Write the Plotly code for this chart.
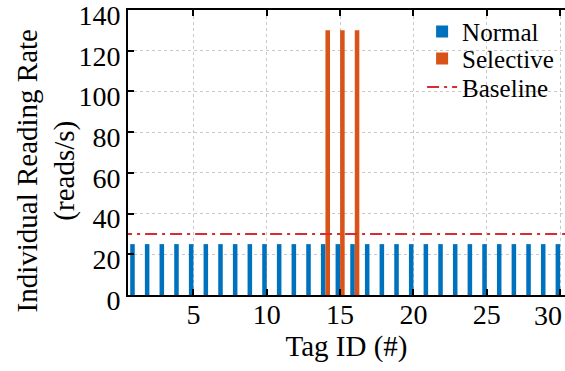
import plotly.graph_objects as go

# Per-tag reading rates
tag_ids = list(range(1, 31))
normal_rate = [25] * 30
selective_ids = [14, 15, 16]
selective_rate = [130, 130, 130]
baseline_rate = 30

x_ticks = [5, 10, 15, 20, 25, 30]
# the last label is drawn separately, right-aligned at its tick so it stays inside the figure
x_tick_labels = ["5", "10", "15", "20", "25", ""]
last_x_label = "30"
y_ticks = [0, 20, 40, 60, 80, 100, 120, 140]

BLUE = "#0072BD"
ORANGE = "#D95319"
RED = "#D62D35"
FONT = "'Times New Roman', 'Liberation Serif', Times, serif"

fig = go.Figure()
fig.add_trace(go.Bar(x=tag_ids, y=normal_rate, name="Normal", legend="legend",
                     marker=dict(color=BLUE, line=dict(width=0))))
fig.add_trace(go.Bar(x=selective_ids, y=selective_rate, name="Selective", legend="legend2",
                     marker=dict(color=ORANGE, line=dict(width=0))))
fig.add_trace(go.Scatter(x=[0.0, 31.0], y=[baseline_rate, baseline_rate],
                         mode="lines", name="Baseline", legend="legend3",
                         line=dict(color=RED, width=2, dash="12px,5px,3px,5px")))

# one legend box per row so the rows sit close together
legend_style = dict(x=0.673, xanchor="left", yanchor="middle",
                    bgcolor="rgba(0,0,0,0)", borderwidth=0,
                    font=dict(family=FONT, size=25, color="black"))

fig.update_layout(
    width=565, height=371,
    margin=dict(l=128, r=0, t=10, b=76, autoexpand=False),
    paper_bgcolor="white", plot_bgcolor="white",
    barmode="group", bargap=0.38, bargroupgap=0.0,
    font=dict(family=FONT, size=29, color="black"),
    showlegend=True,
    legend=dict(y=0.924, **legend_style),
    legend2=dict(y=0.829, **legend_style),
    legend3=dict(y=0.729, **legend_style),
    annotations=[
        # y-axis title, set a little below the middle of the axis
        dict(text="Individual Reading Rate<br>(reads/s)",
             xref="paper", yref="paper", x=-0.1865, y=0.4386,
             xanchor="center", yanchor="middle", textangle=-90,
             showarrow=False, font=dict(family=FONT, size=29)),
        # final x tick label
        dict(text=last_x_label, xref="x", yref="paper", x=x_ticks[-1], y=0,
             xanchor="right", yanchor="middle", xshift=4, yshift=-20,
             showarrow=False, font=dict(family=FONT, size=28)),
    ],
)

fig.update_xaxes(
    range=[0.54, 30.33], tickvals=x_ticks, ticktext=x_tick_labels,
    showline=True, linecolor="black", linewidth=2, mirror="allticks",
    ticks="inside", ticklen=6, tickwidth=2, tickcolor="black",
    showgrid=True, gridcolor="#c8c8c8", gridwidth=1, griddash="dot",
    zeroline=False, ticklabeloverflow="allow", automargin=False,
    ticklabelstandoff=-7,
    title=dict(text="Tag ID (#)", font=dict(size=29), standoff=2),
    tickfont=dict(size=28),
)
fig.update_yaxes(
    range=[0, 140], tickvals=y_ticks,
    showline=True, linecolor="black", linewidth=2, mirror=False,
    ticks="inside", ticklen=6, tickwidth=2, tickcolor="black",
    showgrid=True, gridcolor="#c8c8c8", gridwidth=1, griddash="dot",
    zeroline=False, ticklabeloverflow="allow", automargin=False,
    ticklabelshift=5,
    tickfont=dict(size=28),
)

fig.write_html("out.html")
